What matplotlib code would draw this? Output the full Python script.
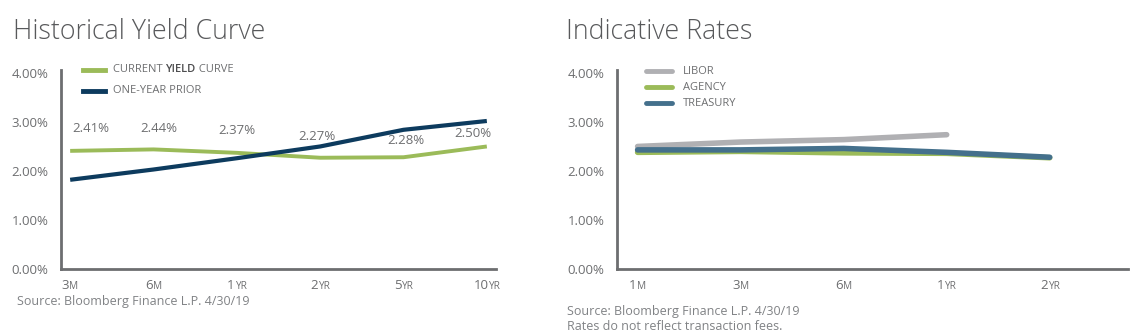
import matplotlib.pyplot as plt
from matplotlib.offsetbox import TextArea, HPacker, AnnotationBbox

plt.rcParams['font.family'] = ['Open Sans', 'DejaVu Sans']

# Historical yield curve
hist_nums = ['3', '6', '1', '2', '5', '10']
hist_units = ['M', 'M', 'YR', 'YR', 'YR', 'YR']
current_yield = [2.41, 2.44, 2.37, 2.27, 2.28, 2.50]
prior_yield = [1.82, 2.03, 2.26, 2.50, 2.84, 3.02]

# Indicative rates
rate_nums = ['1', '3', '6', '1', '2']
rate_units = ['M', 'M', 'M', 'YR', 'YR']
libor = [2.50, 2.59, 2.64, 2.74]
agency = [2.38, 2.40, 2.37, 2.36, 2.27]
treasury = [2.43, 2.43, 2.46, 2.38, 2.28]

GREEN = '#9bbb59'
NAVY = '#0d3b5e'
GRAY = '#b0b0b3'
TEAL = '#44708c'
TXT = '#6d6e70'
SPINE = '#6d6e70'

fig = plt.figure(figsize=(11.3, 3.36), dpi=100)


def style_axes(ax, nums, units, xlim):
    ax.set_ylim(0, 4.06)
    ax.set_xlim(*xlim)
    ax.set_yticks([0, 1, 2, 3, 4])
    ax.set_yticklabels(['%.2f%%' % v for v in [0, 1, 2, 3, 4]],
                       color=TXT, fontsize=9.5)
    ax.tick_params(axis='y', length=0, pad=9)
    ax.set_xticks([])
    for s in ['top', 'right']:
        ax.spines[s].set_visible(False)
    for s in ['left', 'bottom']:
        ax.spines[s].set_color(SPINE)
        ax.spines[s].set_linewidth(2)
    # small-caps style tick labels
    for i, (n, u) in enumerate(zip(nums, units)):
        box = HPacker(children=[
            TextArea(n, textprops=dict(color=TXT, fontsize=9.5)),
            TextArea(u, textprops=dict(color=TXT, fontsize=7.3))],
            align='baseline', pad=0, sep=0)
        ab = AnnotationBbox(box, (i, 0), xybox=(0, -12),
                            xycoords=('data', 'axes fraction'),
                            boxcoords='offset points', frameon=False,
                            box_alignment=(0.5, 0.5))
        ax.add_artist(ab)


# left panel
ax1 = fig.add_axes([61 / 1130, 1 - 269 / 336, 435 / 1130, 199 / 336])
x1 = range(len(current_yield))
ax1.plot(x1, current_yield, color=GREEN, lw=2.8, solid_capstyle='butt')
ax1.plot(x1, prior_yield, color=NAVY, lw=3.0, solid_capstyle='butt')
style_axes(ax1, hist_nums, hist_units, (-0.11, 5.11))
dx = [15, 4, 0, -2, 2, -10]
dy = [16, 15, 16, 15, 12, 9]
for i, v in enumerate(current_yield):
    ax1.annotate('%.2f%%' % v, (i, v), xytext=(dx[i], dy[i]),
                 textcoords='offset points', ha='center', va='center',
                 color=TXT, fontsize=9.5)

fig.text(13 / 1130, 1 - 32 / 336, 'Historical Yield Curve', fontsize=19.3,
         fontweight='light', color='#58595b', va='center', ha='left')
fig.text(17 / 1130, 1 - 302 / 336, 'Source: Bloomberg Finance L.P. 4/30/19',
         fontsize=9, color='#808285', va='center')

# legend, left panel
for k, col in enumerate([GREEN, NAVY]):
    yy = 1 - (70 + k * 21) / 336
    fig.add_artist(plt.Line2D([83 / 1130, 105 / 1130], [yy, yy], color=col,
                              lw=3.5, transform=fig.transFigure))
t = fig.text(113 / 1130, 1 - 70 / 336, 'CURRENT ', fontsize=8, color=TXT,
             va='center')
fig.canvas.draw()
rend = fig.canvas.get_renderer()
bb = t.get_window_extent(renderer=rend).transformed(fig.transFigure.inverted())
t2 = fig.text(bb.x1, 1 - 70 / 336, 'YIELD', fontsize=8, color='#4d4d4f',
              fontweight='semibold', va='center')
bb2 = t2.get_window_extent(renderer=rend).transformed(fig.transFigure.inverted())
fig.text(bb2.x1, 1 - 70 / 336, ' CURVE', fontsize=8, color=TXT, va='center')
fig.text(113 / 1130, 1 - 91 / 336, 'ONE-YEAR PRIOR', fontsize=8, color=TXT,
         va='center')

# right panel
ax2 = fig.add_axes([617 / 1130, 1 - 269 / 336, 511 / 1130, 199 / 336])
ax2.plot(range(len(libor)), libor, color=GRAY, lw=4, solid_capstyle='round')
ax2.plot(range(len(agency)), agency, color=GREEN, lw=4, solid_capstyle='round')
ax2.plot(range(len(treasury)), treasury, color=TEAL, lw=4,
         solid_capstyle='round')
style_axes(ax2, rate_nums, rate_units, (-0.2, 4.76))

fig.text(566 / 1130, 1 - 32 / 336, 'Indicative Rates', fontsize=19.3,
         fontweight='light', color='#58595b', va='center', ha='left')
fig.text(567 / 1130, 1 - 311 / 336, 'Source: Bloomberg Finance L.P. 4/30/19',
         fontsize=9, color='#808285', va='center')
fig.text(567 / 1130, 1 - 327 / 336, 'Rates do not reflect transaction fees.',
         fontsize=9, color='#808285', va='center')

for k, (lab, col) in enumerate([('LIBOR', GRAY), ('AGENCY', GREEN),
                                ('TREASURY', TEAL)]):
    yy = 1 - (71 + k * 16) / 336
    fig.add_artist(plt.Line2D([646 / 1130, 672 / 1130], [yy, yy], color=col,
                              lw=3.5, solid_capstyle='round',
                              transform=fig.transFigure))
    fig.text(683 / 1130, yy, lab, fontsize=8, color=TXT, va='center')

fig.savefig('out.png', dpi=100)
